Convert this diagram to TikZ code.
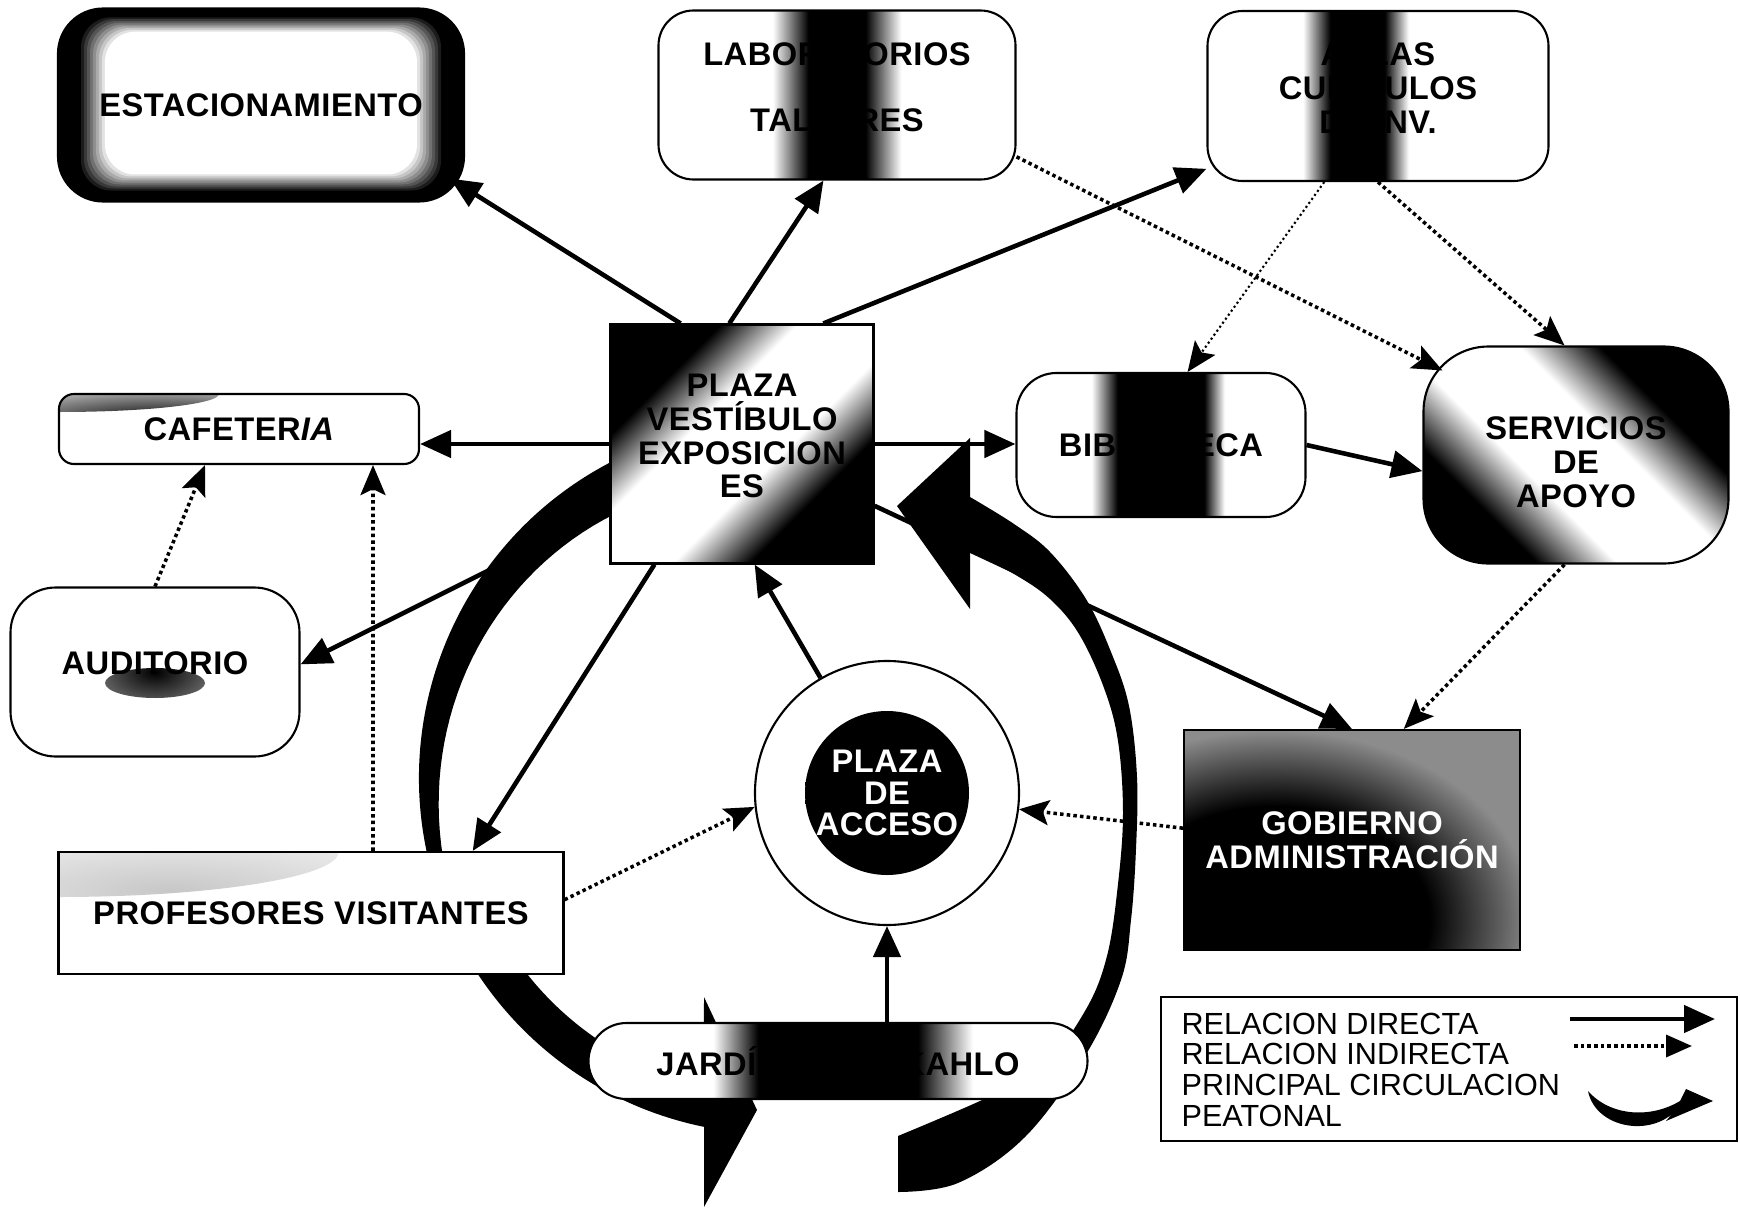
\documentclass[tikz,border=0pt]{standalone}
\usepackage{fontspec}
\setmainfont{Liberation Sans}
\newfontfamily\roomfamily{Liberation Sans}[LetterSpace=1.5]
\usepackage{tikz}
\usetikzlibrary{arrows.meta, positioning, calc}

\newcommand{\roomfont}{\roomfamily\fontsize{9.3}{9.6}\selectfont\bfseries}
\newcommand{\legendfont}{\fontsize{8.7}{8.8}\selectfont}

% dark bands and glows used as room fills
\pgfdeclarehorizontalshading{labband}{100bp}{color(0bp)=(white); color(41bp)=(white); color(46bp)=(black); color(54bp)=(black); color(59bp)=(white); color(100bp)=(white)}
\pgfdeclarehorizontalshading{aulaband}{100bp}{color(0bp)=(white); color(39bp)=(white); color(43bp)=(black); color(51bp)=(black); color(54.5bp)=(white); color(100bp)=(white)}
\pgfdeclarehorizontalshading{biblioband}{100bp}{color(0bp)=(white); color(38bp)=(white); color(42.5bp)=(black); color(57.5bp)=(black); color(61bp)=(white); color(100bp)=(white)}
\pgfdeclarehorizontalshading{jardinband}{100bp}{color(0bp)=(white); color(37.5bp)=(white); color(42bp)=(black); color(58bp)=(black); color(63.5bp)=(white); color(100bp)=(white)}
\pgfdeclarehorizontalshading{diagband}{100bp}{color(0bp)=(black); color(30bp)=(black); color(41bp)=(white); color(57bp)=(white); color(68bp)=(black); color(100bp)=(black)}
\pgfdeclareradialshading{gobglow}{\pgfpoint{0bp}{0bp}}{color(0bp)=(black); color(15bp)=(black); color(25bp)=(black!45); color(50bp)=(black!45)}
\pgfdeclareradialshading{accglow}{\pgfpoint{0bp}{0bp}}{color(0bp)=(black); color(17bp)=(black); color(24bp)=(white); color(50bp)=(white)}

\tikzset{
  room/.style={rectangle, draw, line width=0.6pt, fill=white, rounded corners=0.35cm,
               align=center, inner sep=2pt, font=\roomfont},
  plainroom/.style={rectangle, draw, line width=0.6pt, fill=white,
               align=center, inner sep=2pt, font=\roomfont},
  arrow/.style={-{Triangle[length=0.31cm, width=0.27cm]}, line width=1.3pt},
  dotarrow/.style={-{Stealth[length=0.3cm, width=0.25cm, inset=0.06cm]}, line width=1pt,
                   dash pattern=on 1pt off 0.9pt},
  thindots/.style={line width=0.6pt, dash pattern=on 0.6pt off 0.8pt},
  flow/.style={fill=black},
  % parking: black frame fading into a white core
  estacglow/.style={fill=black, path picture={
      \foreach \k in {0,...,9}{
        \pgfmathsetmacro{\glowlevel}{100-11.1*\k}
        \fill[black!\glowlevel, rounded corners=0.3cm]
          ($(path picture bounding box.south west)+(0.20+0.03*\k,0.09+0.02*\k)$) rectangle
          ($(path picture bounding box.north east)-(0.20+0.03*\k,0.07+0.018*\k)$);
      }}},
  % government: black mass low left, grey top and right
  gobglowfill/.style={path picture={
      \fill[black!45] (path picture bounding box.south west) rectangle (path picture bounding box.north east);
      \shade[shading=gobglow] ($(path picture bounding box.south west)+(0.9,0.3)$) ellipse (2.6cm and 1.9cm);
      }},
}

\begin{document}
\begin{tikzpicture}
  \fill[white] (0,0) rectangle (17.40,12.11);
  \useasboundingbox (0,0) rectangle (17.40,12.11);

  % principal pedestrian circulation
  \begin{scope}[shift={(7.75,4.33)}]
    \fill[flow] (115:3.56) arc[start angle=115, end angle=200, radius=3.56]
      -- plot[domain=200:115, samples=40] ({\x}:{3.07+0.0045*(\x-117)}) -- cycle;
    \fill[flow] (196:3.56) arc[start angle=196, end angle=258.5, radius=3.56]
      -- (-0.71,-4.29) -- (-0.18,-3.32) -- (-0.71,-2.19) -- (257:3.16)
      arc[start angle=257, end angle=196, radius=3.16] -- cycle;
  \end{scope}
  \fill[flow] plot[smooth, tension=0.6] coordinates {(8.98,0.19) (9.58,0.28) (10.25,0.74)
      (10.85,1.55) (11.21,2.31) (11.31,2.91) (11.36,3.62) (11.37,4.34) (11.29,5.05)
      (11.11,5.59) (10.86,6.12) (10.50,6.59) (10.14,6.87) (9.70,7.14)}
    -- (9.70,7.73) -- (8.97,7.05) -- (9.70,6.02) -- (9.70,6.59)
    -- plot[smooth, tension=0.6] coordinates {(9.70,6.59) (10.14,6.37) (10.50,6.12)
      (10.79,5.77) (11.04,5.23) (11.18,4.70) (11.23,3.98) (11.18,3.27) (11.07,2.55)
      (10.85,2.00) (10.40,1.40) (9.80,1.10) (8.98,0.75)}
    -- cycle;

  % rooms
  \node (estac) [room, estacglow, rounded corners=0.45cm, minimum width=4.06cm, minimum height=1.93cm] at (2.61,11.06) {ESTACIONAMIENTO};
  \node (lab) [room, shade, shading=labband, text depth=0.16cm, minimum width=3.57cm, minimum height=1.69cm] at (8.37,11.16) {LABORATORIOS\\[0.32cm]TALLERES};
  \node (aulas) [room, shade, shading=aulaband, text depth=0.16cm, minimum width=3.41cm, minimum height=1.70cm] at (13.78,11.15) {AULAS\\CUBÍCULOS\\DE INV.};
  \node (vest) [plainroom, shade, shading=diagband, shading angle=-45, text depth=0.16cm, minimum width=2.63cm, minimum height=2.39cm] at (7.42,7.67) {PLAZA\\VESTÍBULO\\EXPOSICION\\ES};
  \node (cafe) [room, rounded corners=0.15cm, minimum width=3.60cm, minimum height=0.70cm,
    path picture={\shade[inner color=black, outer color=white] (path picture bounding box.north west) ellipse (1.6cm and 0.18cm);}] at (2.39,7.82) {CAFETER\textit{IA}};
  \node (audit) [room, rounded corners=0.45cm, text depth=0.18cm, minimum width=2.89cm, minimum height=1.69cm,
    path picture={\shade[inner color=black, outer color=white] ($(path picture bounding box.center)+(0,-0.11)$) ellipse (0.5cm and 0.15cm);}] at (1.55,5.39) {AUDITORIO};
  \node (biblio) [room, rounded corners=0.4cm, shade, shading=biblioband, minimum width=2.89cm, minimum height=1.44cm] at (11.61,7.66) {BIBLIOTECA};
  \node (serv) [room, rounded corners=0.65cm, shade, shading=diagband, shading angle=45, minimum width=3.05cm, minimum height=2.17cm] at (15.76,7.56) {\rule{0pt}{0.37cm}SERVICIOS\\DE\\APOYO};
  \node (acceso) [circle, draw, line width=0.6pt, fill=white, minimum size=2.64cm, inner sep=0pt, align=center,
    font=\roomfamily\fontsize{9.3}{9.0}\selectfont\bfseries, text=white,
    path picture={\shade[shading=accglow] (path picture bounding box.center) circle (0.82cm);}] at (8.87,4.18) {PLAZA\\DE\\ACCESO};
  \node (gob) [plainroom, gobglowfill, text=white, minimum width=3.36cm, minimum height=2.20cm] at (13.52,3.71) {GOBIERNO\\ADMINISTRACIÓN};
  \node (prof) [plainroom, minimum width=5.05cm, minimum height=1.22cm,
    path picture={\shade[inner color=black!22, outer color=white] (path picture bounding box.north west) ellipse (2.8cm and 0.45cm);}] at (3.11,2.98) {PROFESORES VISITANTES};
  \node (jardin) [room, rounded corners=0.38cm, shade, shading=jardinband, minimum width=4.99cm, minimum height=0.76cm] at (8.38,1.50) {JARDÍN FRIDA KAHLO};

  % direct relations
  \draw[arrow] (vest.117) -- ($(estac.south east)+(-0.15,0.24)$);
  \draw[arrow] (vest.96) -- (lab.261);
  \draw[arrow] (vest.56) -- (aulas.203);
  \draw[arrow] (vest.west) -- (vest.west -| cafe.east);
  \draw[arrow] (vest.east) -- (vest.east -| biblio.west);
  \draw[arrow] (vest) -- (audit.3);
  \draw[arrow] (vest.234) -- (prof.21);
  \draw[arrow] (acceso.120) -- (vest.276);
  \draw[arrow] (jardin.north -| acceso.south) -- (acceso.south);
  \draw[arrow] (vest) -- (gob.north);
  \draw[arrow] (biblio.east) -- (serv.186);

  % indirect relations
  \draw[dotarrow] (lab.-19) -- ($(serv.north west)+(0.2,-0.25)$);
  \draw[dotarrow, thindots] (aulas.238) -- (biblio.70);
  \draw[dotarrow] (aulas.south) -- (serv.96);
  \draw[dotarrow] (serv.264) -- (gob.65);
  \draw[dotarrow] (gob.176) -- (acceso.-7);
  \draw[dotarrow] (prof.3) -- (acceso.186);
  \draw[dotarrow] ($(prof.north)+(0.62,0)$) -- ($(cafe.south)+(1.34,0)$);
  \draw[dotarrow] (audit.north) -- ($(cafe.south)+(-0.34,0)$);

  % legend
  \node (legend) [draw, line width=0.6pt, minimum width=5.76cm, minimum height=1.44cm] at (14.49,1.42) {};
  \node (legtext) [below right=0.16cm and 0.21cm of legend.north west, anchor=north west, align=left, inner sep=0pt, font=\legendfont]
    {RELACION DIRECTA\\RELACION INDIRECTA\\PRINCIPAL CIRCULACION\\PEATONAL};
  \coordinate (dirfrom) at (15.70,1.92);
  \coordinate (dirto) at (17.15,1.92);
  \coordinate (indfrom) at (15.74,1.65);
  \coordinate (indto) at (16.92,1.65);
  \draw[arrow] (dirfrom) -- (dirto);
  \draw[dotarrow, -{Triangle[length=0.26cm, width=0.22cm]}] (indfrom) -- (indto);
  \fill[flow] (15.88,1.20) .. controls (15.95,0.85) and (16.45,0.74) .. (16.72,0.97)
    -- (16.66,0.90) -- (17.13,1.10) -- (16.86,1.22) -- (16.80,1.10)
    .. controls (16.50,0.92) and (16.10,0.95) .. (15.88,1.20) -- cycle;
\end{tikzpicture}
\end{document}
